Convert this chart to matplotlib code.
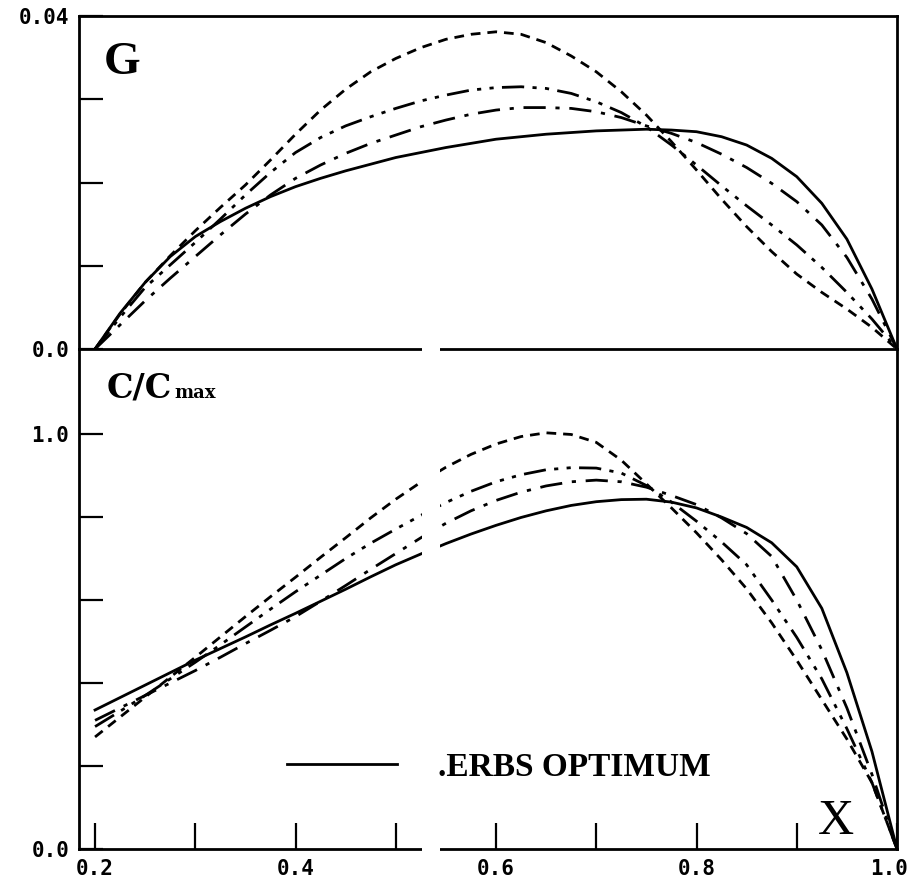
import matplotlib.pyplot as plt
import matplotlib.transforms as mtransforms
import numpy as np

# radial stations, 0.2 to 1.0 every 0.025
x_pts = np.round(np.arange(0.2, 1.0001, 0.025), 3)

# circulation G
g_optimum = [0, 0.0043, 0.0080, 0.0111, 0.0135, 0.0153, 0.0169, 0.0183, 0.0195,
             0.0205, 0.0214, 0.0222, 0.0230, 0.0236, 0.0242, 0.0247, 0.0252,
             0.0255, 0.0258, 0.0260, 0.0262, 0.0263, 0.0264, 0.0263, 0.0261,
             0.0255, 0.0245, 0.0229, 0.0207, 0.0175, 0.0132, 0.0072, 0]
g_case1 = [0, 0.0042, 0.0080, 0.0112, 0.0142, 0.0170, 0.0197, 0.0227, 0.0258,
           0.0287, 0.0312, 0.0333, 0.0349, 0.0362, 0.0372, 0.0378, 0.0381,
           0.0378, 0.0368, 0.0352, 0.0333, 0.0309, 0.0281, 0.0249, 0.0215,
           0.0180, 0.0147, 0.0117, 0.0090, 0.0068, 0.0048, 0.0026, 0]
g_case2 = [0, 0.0038, 0.0074, 0.0101, 0.0128, 0.0156, 0.0185, 0.0212, 0.0236,
           0.0254, 0.0268, 0.0279, 0.0289, 0.0298, 0.0305, 0.0311, 0.0314,
           0.0315, 0.0313, 0.0307, 0.0297, 0.0284, 0.0267, 0.0245, 0.0221,
           0.0196, 0.0172, 0.0149, 0.0125, 0.0098, 0.0068, 0.0036, 0]
g_case3 = [0, 0.0029, 0.0058, 0.0085, 0.0111, 0.0137, 0.0162, 0.0185, 0.0205,
           0.0221, 0.0235, 0.0247, 0.0257, 0.0267, 0.0275, 0.0282, 0.0287,
           0.0290, 0.0290, 0.0289, 0.0285, 0.0278, 0.0268, 0.0259, 0.0248,
           0.0234, 0.0218, 0.0199, 0.0177, 0.0149, 0.0110, 0.0060, 0]

# chord C/Cmax
c_optimum = [0.335, 0.365, 0.395, 0.425, 0.455, 0.483, 0.511, 0.540, 0.568,
             0.597, 0.626, 0.656, 0.685, 0.711, 0.736, 0.759, 0.780, 0.799,
             0.815, 0.828, 0.837, 0.842, 0.843, 0.836, 0.822, 0.800, 0.775,
             0.738, 0.680, 0.580, 0.425, 0.235, 0]
c_case1 = [0.270, 0.318, 0.366, 0.414, 0.462, 0.511, 0.560, 0.608, 0.655,
           0.703, 0.750, 0.798, 0.843, 0.884, 0.920, 0.951, 0.976, 0.994,
           1.003, 0.999, 0.980, 0.937, 0.880, 0.822, 0.762, 0.697, 0.627,
           0.545, 0.455, 0.360, 0.265, 0.160, 0]
c_case2 = [0.295, 0.332, 0.370, 0.410, 0.450, 0.492, 0.535, 0.578, 0.620,
           0.660, 0.700, 0.737, 0.771, 0.804, 0.835, 0.862, 0.885, 0.902,
           0.914, 0.919, 0.918, 0.906, 0.876, 0.836, 0.790, 0.740, 0.685,
           0.600, 0.510, 0.410, 0.290, 0.160, 0]
c_case3 = [0.310, 0.340, 0.370, 0.400, 0.430, 0.462, 0.495, 0.527, 0.560,
           0.597, 0.635, 0.674, 0.712, 0.750, 0.785, 0.815, 0.840, 0.860,
           0.875, 0.885, 0.889, 0.885, 0.872, 0.852, 0.830, 0.798, 0.760,
           0.705, 0.600, 0.480, 0.340, 0.180, 0]

legend_label = ".ERBS OPTIMUM"

styles = [
    dict(linestyle='-'),
    dict(dashes=(3.5, 2.5)),
    dict(dashes=(8, 3, 1.5, 3, 1.5, 3)),
    dict(dashes=(8, 3.5, 1.5, 3.5)),
]

mono = {'family': 'DejaVu Sans Mono', 'weight': 'bold', 'size': 15}
serif = 'Liberation Serif'

fig = plt.figure(figsize=(9.13, 8.89), dpi=100)
ax_g = fig.add_axes([79/913, 1 - 349/889, 818/913, 333/889])
ax_c = fig.add_axes([79/913, 1 - 849/889, 818/913, 500/889])

for ys, st in zip([g_optimum, g_case1, g_case2, g_case3], styles):
    ax_g.plot(x_pts, ys, color='black', lw=2.0, solid_joinstyle='round', **st)

lines = []
for ys, st in zip([c_optimum, c_case1, c_case2, c_case3], styles):
    ln, = ax_c.plot(x_pts, ys, color='black', lw=2.0, solid_joinstyle='round', **st)
    lines.append(ln)

for ax in (ax_g, ax_c):
    ax.set_xlim(0.184, 1.0)
    for s in ax.spines.values():
        s.set_linewidth(2.0)
    ax.tick_params(direction='in', width=1.6, colors='black', pad=7)

ax_g.spines['bottom'].set_visible(False)
ax_g.set_ylim(0, 0.04)
ax_g.set_xticks([])
ax_g.set_yticks([0, 0.01, 0.02, 0.03, 0.04])
ax_g.set_yticklabels(['0.0', '', '', '', '0.04'], fontdict=mono)
ax_g.tick_params(axis='y', length=17)

ax_c.set_ylim(0, 1.205)
ax_c.set_yticks([0, 0.2, 0.4, 0.6, 0.8, 1.0])
ax_c.set_yticklabels(['0.0', '', '', '', '', '1.0'], fontdict=mono)
ax_c.set_xticks([0.2, 0.3, 0.4, 0.5, 0.6, 0.7, 0.8, 0.9, 1.0])
ax_c.set_xticklabels(['0.2', '', '0.4', '', '0.6', '', '0.8', '', '1.0'], fontdict=mono)
ax_c.tick_params(axis='y', length=17)
ax_c.tick_params(axis='x', length=19)

# keep the last x label inside the figure edge
last = ax_c.get_xticklabels()[-1]
last.set_transform(last.get_transform()
                   + mtransforms.ScaledTranslation(-8/100, 0, fig.dpi_scale_trans))

# torn strip through the lower frame
ax_c.axvspan(0.526, 0.544, ymin=-0.01, ymax=1.006, color='white', zorder=5,
             clip_on=False, lw=0)

ax_g.text(0.03, 0.825, 'G', transform=ax_g.transAxes, family=serif,
          weight='bold', fontsize=34, va='baseline')
t_c = ax_c.text(0.034, 0.902, 'C/C', transform=ax_c.transAxes,
                family='DejaVu Serif', weight='bold', fontsize=24, va='baseline')
fig.canvas.draw()
bb = t_c.get_window_extent(fig.canvas.get_renderer())
x_max = ax_c.transAxes.inverted().transform((bb.x1 + 2, 0))[0]
ax_c.text(x_max, 0.902, 'max', transform=ax_c.transAxes,
          family='DejaVu Serif', weight='bold', fontsize=13, va='baseline')
ax_c.text(0.903, 0.03, 'X', transform=ax_c.transAxes, family=serif,
          fontsize=36, va='baseline')

ax_c.legend([lines[0]], [legend_label], loc='center left',
            bbox_to_anchor=(0.254, 0.164), frameon=False, borderpad=0,
            borderaxespad=0, handlelength=3.3, handletextpad=1.25,
            prop={'family': serif, 'weight': 'bold', 'size': 24})

fig.savefig('out.png', dpi=100)
